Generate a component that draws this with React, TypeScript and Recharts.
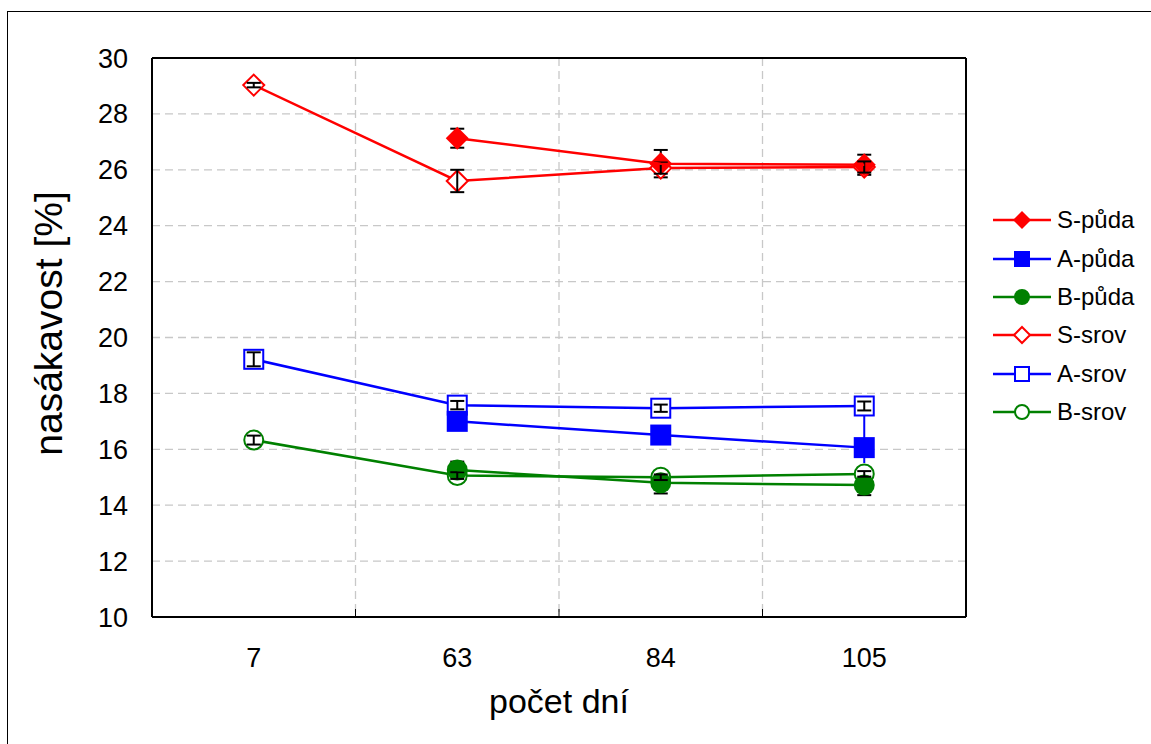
import React from 'react'
import {
  LineChart, Line, XAxis, YAxis, CartesianGrid, ErrorBar,
} from 'recharts'

// sampling days (categories)
const days = ['7', '63', '84', '105']

// water absorption [%] per mixture, soil-cured (půda) vs reference-cured (srov)
const sPuda = [null, 27.13, 26.22, 26.18]
const sPudaErr = [null, 0.34, 0.49, 0.36]
const aPuda = [null, 17.0, 16.51, 16.06]
const aPudaErr = [null, 0.25, 0.2, 0.2]
const bPuda = [null, 15.26, 14.8, 14.72]
const bPudaErr = [null, 0.3, 0.38, 0.36]

const sSrov = [29.03, 25.6, 26.06, 26.1]
const sSrovErr = [0.08, 0.4, 0.2, 0.2]
const aSrov = [19.22, 17.58, 17.47, 17.55]
const aSrovErr = [0.25, 0.15, 0.13, 0.16]
const bSrov = [16.33, 15.06, 15.0, 15.12]
const bSrovErr = [0.16, 0.12, 0.1, 0.1]

// the long blue whisker on A-půda at 105 days [down, up]
const aPudaWide = [null, null, null, [0.55, 1.5]]

const yTicks = [10, 12, 14, 16, 18, 20, 22, 24, 26, 28, 30]

const data = days.map((day, i) => ({
  day,
  sPuda: sPuda[i], sPudaErr: sPudaErr[i],
  aPuda: aPuda[i], aPudaErr: aPudaErr[i], aPudaWide: aPudaWide[i],
  bPuda: bPuda[i], bPudaErr: bPudaErr[i],
  sSrov: sSrov[i], sSrovErr: sSrovErr[i],
  aSrov: aSrov[i], aSrovErr: aSrovErr[i],
  bSrov: bSrov[i], bSrovErr: bSrovErr[i],
}))

const RED = '#ff0000'
const BLUE = '#0000ff'
const GREEN = '#008000'
const FONT = '"Liberation Sans", Arial, sans-serif'
const LW = 2.5

// vertical grid lines between categories (band edges of the x axis)
const bandBoundaries = ({ xAxis, offset }: any) => {
  const scale = xAxis?.scale
  if (typeof scale === 'function') {
    const fromScale = days.slice(1).map((d) => scale(d))
    if (fromScale.every((v: any) => typeof v === 'number' && !isNaN(v))) return fromScale
  }
  if (!offset) return []
  return days.slice(1).map((_, i) => offset.left + (offset.width * (i + 1)) / days.length)
}

type Shape = 'diamond' | 'square' | 'circle'

function Marker({ cx, cy, shape, color, filled, size }: any) {
  const fill = filled ? color : '#fff'
  const sw = filled ? 0 : 2
  if (shape === 'diamond') {
    const h = filled ? size / 2 + 1 : size / 2
    return (
      <polygon
        points={`${cx},${cy - h} ${cx + h},${cy} ${cx},${cy + h} ${cx - h},${cy}`}
        fill={fill} stroke={color} strokeWidth={sw}
      />
    )
  }
  if (shape === 'square') {
    const h = filled ? size / 2 : size / 2 - 1
    return <rect x={cx - h} y={cy - h} width={h * 2} height={h * 2} fill={fill} stroke={color} strokeWidth={sw} />
  }
  const r = filled ? size / 2 : size / 2 - 1
  return <circle cx={cx} cy={cy} r={r} fill={fill} stroke={color} strokeWidth={sw} />
}

function dotFor(shape: Shape, color: string, filled: boolean) {
  return (p: any) => {
    if (p.cy == null || p.value == null) return <g key={p.key ?? p.index} />
    return (
      <g key={p.key ?? p.index}>
        <Marker cx={p.cx} cy={p.cy} shape={shape} color={color} filled={filled} size={21} />
      </g>
    )
  }
}

// rotated y title, sitting a little above the plot's middle
const YTitle = ({ viewBox }: any) => {
  const x = viewBox.x + 48
  const y = viewBox.y + viewBox.height / 2 - 14
  return (
    <text x={x} y={y} transform={`rotate(-90, ${x}, ${y})`} textAnchor="middle" dominantBaseline="central" fill="#000" fontSize={39}>
      nasákavost [%]
    </text>
  )
}

const legendItems: { name: string; shape: Shape; color: string; filled: boolean }[] = [
  { name: 'S-půda', shape: 'diamond', color: RED, filled: true },
  { name: 'A-půda', shape: 'square', color: BLUE, filled: true },
  { name: 'B-půda', shape: 'circle', color: GREEN, filled: true },
  { name: 'S-srov', shape: 'diamond', color: RED, filled: false },
  { name: 'A-srov', shape: 'square', color: BLUE, filled: false },
  { name: 'B-srov', shape: 'circle', color: GREEN, filled: false },
]

function SideLegend() {
  return (
    <div style={{ position: 'absolute', left: 993, top: 201, fontFamily: FONT }}>
      {legendItems.map((it) => (
        <div key={it.name} style={{ height: 38.4, display: 'flex', alignItems: 'center' }}>
          <svg width={58} height={24} style={{ display: 'block' }}>
            <line x1={0} y1={12} x2={58} y2={12} stroke={it.color} strokeWidth={LW} />
            <Marker cx={29} cy={12} shape={it.shape} color={it.color} filled={it.filled} size={16} />
          </svg>
          <span style={{ fontSize: 24, marginLeft: 6, color: '#000', lineHeight: '24px' }}>{it.name}</span>
        </div>
      ))}
    </div>
  )
}

const errProps = { stroke: '#000', strokeWidth: 2, width: 7, direction: 'y' as const }
const frame = { stroke: '#000', strokeWidth: 2 }

export default function App() {
  return (
    <div style={{ position: 'absolute', left: 0, top: 0, width: 1151, height: 744, overflow: 'hidden', background: '#fff' }}>
      <div style={{ position: 'absolute', left: 7, top: 11, width: 1200, height: 800, border: '1px solid #000' }} />
      <LineChart
        width={1151}
        height={744}
        data={data}
        margin={{ top: 58, right: 185, bottom: 0, left: 0 }}
        style={{ fontFamily: FONT }}
      >
        <CartesianGrid stroke="#c8c8c8" strokeDasharray="8 5" strokeWidth={1.3} verticalCoordinatesGenerator={bandBoundaries} />
        {/* short solid ticks at the boundaries, rising from the bottom frame */}
        <CartesianGrid horizontal={false} y={609} height={8} stroke="#000" strokeWidth={1} verticalCoordinatesGenerator={bandBoundaries} />
        <XAxis xAxisId="top" orientation="top" mirror dataKey="day" scale="band" axisLine={frame} tick={false} tickLine={false} />
        <YAxis yAxisId="right" orientation="right" mirror domain={[10, 30]} axisLine={frame} tick={false} tickLine={false} />
        <XAxis
          dataKey="day" scale="band" height={127} axisLine={frame} tickLine={false}
          tickSize={0} tickMargin={31} tick={{ fill: '#000', fontSize: 27 }}
          label={{ value: 'počet dní', position: 'insideBottom', offset: 31, fill: '#000', fontSize: 34 }}
        />
        <YAxis
          width={152} domain={[10, 30]} ticks={yTicks} axisLine={frame} tickLine={false}
          tickSize={0} tickMargin={24} tick={{ fill: '#000', fontSize: 27 }}
          label={<YTitle />}
        />

        {/* srov series first, their whiskers on top of the open markers */}
        <Line dataKey="sSrov" stroke={RED} strokeWidth={LW} dot={dotFor('diamond', RED, false)} activeDot={false} isAnimationActive={false} />
        <Line dataKey="aSrov" stroke={BLUE} strokeWidth={LW} dot={dotFor('square', BLUE, false)} activeDot={false} isAnimationActive={false} />
        <Line dataKey="bSrov" stroke={GREEN} strokeWidth={LW} dot={dotFor('circle', GREEN, false)} activeDot={false} isAnimationActive={false} />
        <Line dataKey="sSrov" stroke="none" dot={false} activeDot={false} legendType="none" isAnimationActive={false}>
          <ErrorBar dataKey="sSrovErr" {...errProps} zIndex={650} />
        </Line>
        <Line dataKey="aSrov" stroke="none" dot={false} activeDot={false} legendType="none" isAnimationActive={false}>
          <ErrorBar dataKey="aSrovErr" {...errProps} zIndex={650} />
        </Line>
        <Line dataKey="bSrov" stroke="none" dot={false} activeDot={false} legendType="none" isAnimationActive={false}>
          <ErrorBar dataKey="bSrovErr" {...errProps} zIndex={650} />
        </Line>

        {/* půda whiskers sit under the filled markers */}
        <Line dataKey="sPuda" stroke="none" dot={false} activeDot={false} legendType="none" isAnimationActive={false}>
          <ErrorBar dataKey="sPudaErr" {...errProps} />
        </Line>
        <Line dataKey="aPuda" stroke="none" dot={false} activeDot={false} legendType="none" isAnimationActive={false}>
          <ErrorBar dataKey="aPudaWide" stroke={BLUE} strokeWidth={2} width={0} direction="y" />
          <ErrorBar dataKey="aPudaErr" {...errProps} />
        </Line>
        <Line dataKey="bPuda" stroke="none" dot={false} activeDot={false} legendType="none" isAnimationActive={false}>
          <ErrorBar dataKey="bPudaErr" {...errProps} />
        </Line>
        <Line dataKey="sPuda" stroke={RED} strokeWidth={LW} dot={dotFor('diamond', RED, true)} activeDot={false} isAnimationActive={false} zIndex={700} />
        <Line dataKey="aPuda" stroke={BLUE} strokeWidth={LW} dot={dotFor('square', BLUE, true)} activeDot={false} isAnimationActive={false} zIndex={700} />
        <Line dataKey="bPuda" stroke={GREEN} strokeWidth={LW} dot={dotFor('circle', GREEN, true)} activeDot={false} isAnimationActive={false} zIndex={700} />
      </LineChart>
      <SideLegend />
    </div>
  )
}
